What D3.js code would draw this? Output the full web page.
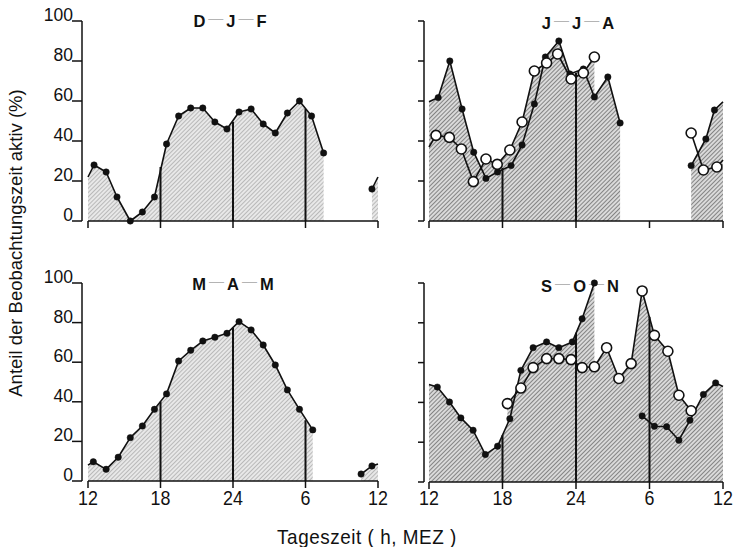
<!DOCTYPE html>
<html><head><meta charset="utf-8">
<script src="https://cdn.jsdelivr.net/npm/d3@7"></script>
<style>html,body{margin:0;padding:0;background:#fff}svg{display:block}text{font-family:"Liberation Sans",Arial,Helvetica,sans-serif;fill:#111}</style>
</head><body><svg id="c" width="738" height="547"></svg>
<script>
// ---------- data ----------
// hours are measured from 12:00 MEZ (0 = 12h, 6 = 18h, 12 = 24h, 18 = 6h, 24 = 12h)
const xTickHours = [0, 6, 12, 18, 24];
const xTickLabels = ["12", "18", "24", "6", "12"];
const yTickValues = [0, 20, 40, 60, 80, 100];
const markerHours = [6, 12, 18];          // 18h, 24h, 6h lines

// D-J-F
const djfHours  = [0.5,1.5,2.4,3.5,4.5,5.5,6.5,7.5,8.5,9.5,10.5,11.5,12.5,13.5,14.5,15.5,16.5,17.5,18.5,19.5,21.5,23.5];
const djfValues = [28,24.5,12,0,4.5,12,38.5,52.5,56.5,56.5,49.5,46,54.5,56,48.5,44,54,60,52.5,34,null,16];
const djfEdges  = [22, 22];
const djfMarkerTops = [27, 49.6, 56];

// J-J-A (filled dots)
const jjaHours  = [0.75,1.7,2.7,3.65,4.65,5.6,6.7,7.6,8.6,9.5,10.6,11.5,12.6,13.5,14.6,15.6,18.5,21.4,22.6,23.3];
const jjaValues = [61.7,80,56,34.4,21.3,24.5,27.7,38,58.5,82,90,73.5,76,62,72,49,null,27.7,41,55.5];
const jjaEdges  = [59.6, 59.6];
// J-J-A (open circles)
const jjaOpenHours  = [0.57,1.66,2.64,3.62,4.65,5.57,6.6,7.6,8.6,9.6,10.5,11.6,12.6,13.5,17.5,21.4,22.4,23.5];
const jjaOpenValues = [42.8,41.8,36,19.7,31,28.3,35.5,49.5,75,79,83.5,71,74,82,null,44,25.5,27];
const jjaOpenEdges  = [37, 30.5];
const jjaMarkerTops = [26.5, 74, null];

// M-A-M
const mamHours  = [0.44,1.5,2.5,3.5,4.5,5.5,6.5,7.5,8.5,9.5,10.5,11.5,12.5,13.5,14.5,15.5,16.5,17.5,18.6,20.5,22.6,23.5];
const mamValues = [9.7,5.9,12,21.9,27.8,36.2,44,60.6,66,70.7,72.6,74.6,80.5,76.3,68.7,58.6,46,36.2,25.8,null,3.5,7.6];
const mamEdges  = [8, 8.6];
const mamMarkerTops = [40, 77.4, 30.7];

// S-O-N (filled dots)
const sonHours  = [0.68,1.67,2.6,3.6,4.6,5.6,6.6,7.5,8.5,9.6,10.6,11.7,12.5,13.5,15.5,17.4,18.4,19.4,20.4,21.3,22.4,23.4];
const sonValues = [47.7,40.2,32.2,26,13.8,18,31.8,56.1,67.5,70.4,67.5,70.4,82,100,null,33.2,28,27.8,21,31,44,49.8];
const sonEdges  = [49, 48];
// S-O-N (open circles)
const sonOpenHours  = [6.4,7.5,8.5,9.6,10.6,11.6,12.5,13.5,14.5,15.5,16.5,17.4,18.4,19.5,20.4,21.4];
const sonOpenValues = [39.4,47.2,57.5,62,62,61.5,57.5,57.9,67.5,52,59.5,96,73.7,65.7,43.6,35.8];
const sonMarkerTops = [23.5, 75, 83];

const panelTitles = [["D","J","F"],["J","J","A"],["M","A","M"],["S","O","N"]];

// ---------- drawing ----------
const svg = d3.select("#c");
const defs = svg.append("defs");
function hatch(id, bg, fg, w) {
  const p = defs.append("pattern").attr("id", id).attr("patternUnits", "userSpaceOnUse")
    .attr("width", 3).attr("height", 3).attr("patternTransform", "rotate(45)");
  p.append("rect").attr("width", 3).attr("height", 3).attr("fill", bg);
  p.append("line").attr("x1", 0.5).attr("y1", 0).attr("x2", 0.5).attr("y2", 3).attr("stroke", fg).attr("stroke-width", w);
}
hatch("hLight", "#e8e8e8", "#adadad", 0.8);
hatch("hDark", "#dadada", "#7a7a7a", 0.9);

const panels = [
  { x: [88, 378], y: [221, 21], axisX: 82, labels: true, xLabels: false, fill: "hLight",
    title: panelTitles[0], titlePos: [230, 27],
    series: [{ h: djfHours, v: djfValues, edges: djfEdges, open: false }],
    tops: djfMarkerTops },
  { x: [429, 723], y: [221, 21], axisX: 424, labels: false, xLabels: false, fill: "hDark",
    title: panelTitles[1], titlePos: [578, 29],
    series: [{ h: jjaHours, v: jjaValues, edges: jjaEdges, open: false },
             { h: jjaOpenHours, v: jjaOpenValues, edges: jjaOpenEdges, open: true, areaPieces: [0] }],
    tops: jjaMarkerTops },
  { x: [88, 378], y: [481, 283], axisX: 82, labels: true, xLabels: true, fill: "hLight",
    title: panelTitles[2], titlePos: [233, 290],
    series: [{ h: mamHours, v: mamValues, edges: mamEdges, open: false }],
    tops: mamMarkerTops },
  { x: [429, 723], y: [482, 283], axisX: 424, labels: false, xLabels: true, fill: "hDark",
    title: panelTitles[3], titlePos: [580, 292],
    series: [{ h: sonHours, v: sonValues, edges: sonEdges, open: false },
             { h: sonOpenHours, v: sonOpenValues, edges: null, open: true }],
    tops: sonMarkerTops }
];

function pieces(arr) {
  const out = []; let cur = [];
  arr.forEach(d => { if (d.v == null) { if (cur.length) out.push(cur); cur = []; } else cur.push(d); });
  if (cur.length) out.push(cur);
  return out;
}

panels.forEach(P => {
  const g = svg.append("g");
  const x = d3.scaleLinear().domain([0, 24]).range(P.x);
  const y = d3.scaleLinear().domain([0, 100]).range(P.y);
  const line = d3.line().x(d => x(d.h)).y(d => y(d.v));
  const area = d3.area().x(d => x(d.h)).y0(y(0)).y1(d => y(d.v));

  const built = P.series.map(s => {
    const pts = s.h.map((h, i) => ({ h, v: s.v[i] }));
    const full = s.edges ? [{ h: 0, v: s.edges[0] }, ...pts, { h: 24, v: s.edges[1] }] : pts;
    return { s, pts, pcs: pieces(full) };
  });

  // title
  const t = g.append("text").attr("x", P.titlePos[0]).attr("y", P.titlePos[1]).attr("text-anchor", "middle")
    .style("font-size", "16.5px").style("font-weight", "bold");
  P.title.forEach((c, i) => {
    if (i > 0) t.append("tspan").text("\u2009\u2014\u2009").attr("dy", -4.5)
      .style("fill", "#b4b4b4").style("font-weight", "normal").style("font-size", "15px");
    t.append("tspan").text(c).attr("dy", i > 0 ? 4.5 : 0);
  });

  // areas
  built.forEach(b => {
    b.pcs.forEach((pc, i) => {
      if (b.s.areaPieces && !b.s.areaPieces.includes(i)) return;
      g.append("path").attr("d", area(pc)).attr("fill", `url(#${P.fill})`);
    });
  });

  // 18h / 24h / 6h lines
  markerHours.forEach((h, i) => {
    if (P.tops[i] == null) return;
    g.append("line").attr("x1", x(h)).attr("x2", x(h)).attr("y1", y(0)).attr("y2", y(P.tops[i]))
      .attr("stroke", "#111").attr("stroke-width", 2);
  });

  // lines
  built.forEach(b => {
    b.pcs.forEach(pc => {
      g.append("path").attr("d", line(pc)).attr("fill", "none").attr("stroke", "#111")
        .attr("stroke-width", 1.6).attr("stroke-linejoin", "round");
    });
  });
  // markers
  built.forEach(b => {
    g.selectAll(null).data(b.pts.filter(d => d.v != null)).enter().append("circle")
      .attr("cx", d => x(d.h)).attr("cy", d => y(d.v))
      .attr("r", b.s.open ? 5 : 3.2)
      .attr("fill", b.s.open ? "#fff" : "#111")
      .attr("stroke", "#111").attr("stroke-width", b.s.open ? 1.6 : 0.5);
  });

  // y axis
  const ya = g.append("g");
  ya.append("line").attr("x1", P.axisX).attr("x2", P.axisX).attr("y1", y(100)).attr("y2", y(0))
    .attr("stroke", "#111").attr("stroke-width", 1.5);
  yTickValues.forEach(v => {
    ya.append("line").attr("x1", P.labels ? P.axisX - 10 : P.axisX - 6).attr("x2", P.axisX)
      .attr("y1", y(v)).attr("y2", y(v)).attr("stroke", "#111").attr("stroke-width", 1.5);
    if (P.labels) ya.append("text").attr("x", P.axisX - 9).attr("y", y(v)).attr("text-anchor", "end")
      .style("font-size", "17.5px").text(v);
  });
  // x axis
  const xa = g.append("g");
  xa.append("line").attr("x1", x(0)).attr("x2", x(24)).attr("y1", y(0)).attr("y2", y(0))
    .attr("stroke", "#111").attr("stroke-width", 1.5);
  xTickHours.forEach((h, i) => {
    xa.append("line").attr("x1", x(h)).attr("x2", x(h)).attr("y1", y(0)).attr("y2", y(0) + 7)
      .attr("stroke", "#111").attr("stroke-width", 1.5);
    if (P.xLabels) xa.append("text").attr("transform", `translate(${x(h)},505) scale(0.85,1)`)
      .attr("text-anchor", "middle").style("font-size", "21px").text(xTickLabels[i]);
  });
});

svg.append("text").attr("transform", "translate(367,544) scale(0.9,1)").attr("text-anchor", "middle")
  .style("font-size", "21px").style("letter-spacing", "0.6px").text("Tageszeit ( h, MEZ )");
svg.append("text").attr("transform", "translate(22,243) rotate(-90)").attr("text-anchor", "middle")
  .style("font-size", "18.5px").text("Anteil der Beobachtungszeit aktiv (%)");
</script></body></html>
